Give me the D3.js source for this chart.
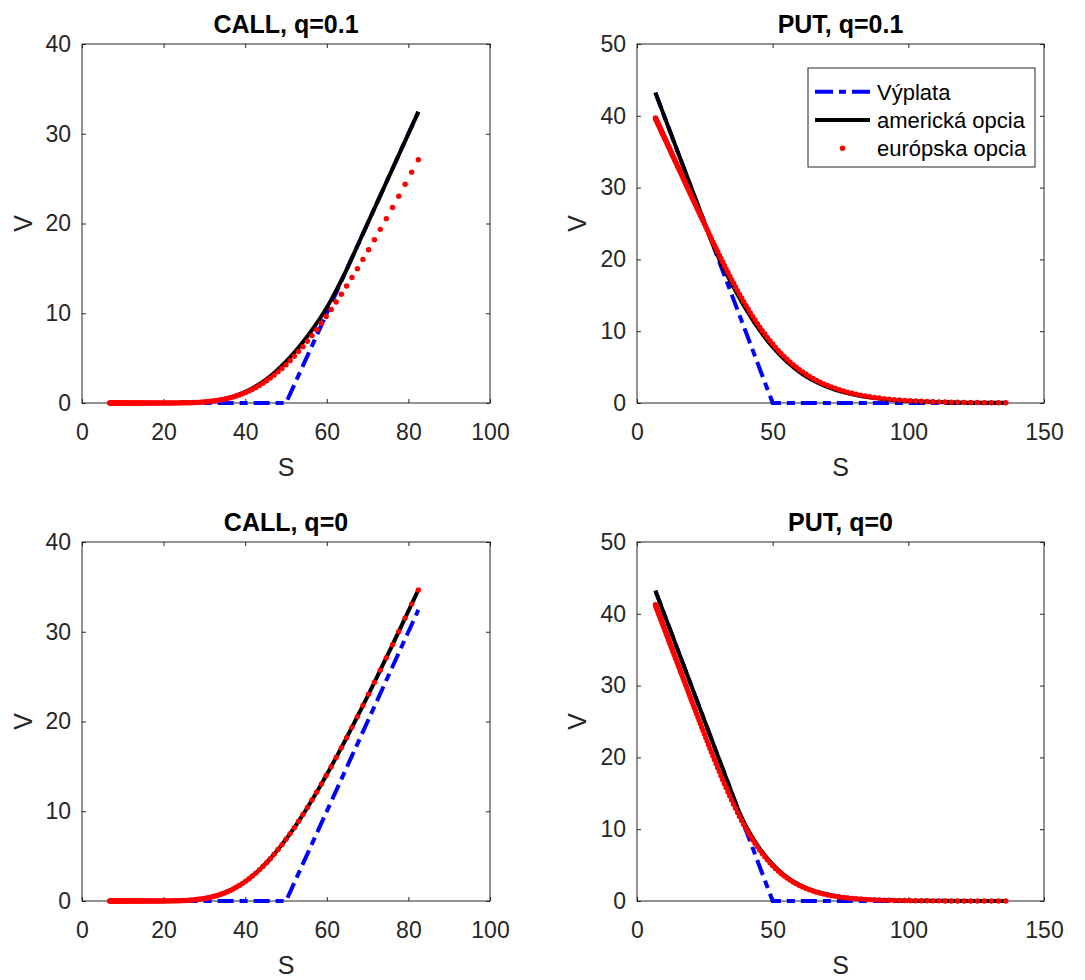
<!DOCTYPE html>
<html><head><meta charset="utf-8">
<script src="https://cdn.jsdelivr.net/npm/d3@7"></script>
<style>
body{margin:0;background:#fff}
text{font-family:"Liberation Sans",Arial,Helvetica,sans-serif;fill:#262626}
</style></head>
<body><svg id="c" width="1085" height="980"></svg>
<script>
// ---- data ----
const sGrid = [
6.77,6.90,7.04,7.19,7.33, 7.48,7.63,7.78,7.94,8.10, 8.26,8.43,8.60,8.78,8.95,
9.13,9.32,9.51,9.70,9.89, 10.09,10.30,10.51,10.72,10.94, 11.16,11.38,11.61,11.85,12.09,
12.33,12.58,12.83,13.09,13.36, 13.63,13.90,14.18,14.47,14.76, 15.06,15.36,15.67,15.99,16.31,
16.64,16.98,17.32,17.67,18.03, 18.39,18.77,19.14,19.53,19.93, 20.33,20.74,21.16,21.59,22.02,
22.47,22.92,23.38,23.86,24.34, 24.83,25.33,25.84,26.36,26.90, 27.44,27.99,28.56,29.14,29.73,
30.33,30.94,31.56,32.20,32.85, 33.52,34.19,34.88,35.59,36.31, 37.04,37.79,38.55,39.33,40.13,
40.94,41.76,42.61,43.47,44.35, 45.24,46.16,47.09,48.04,49.01, 50.00,51.01,52.04,53.09,54.16,
55.26,56.37,57.51,58.68,59.86, 61.07,62.30,63.56,64.85,66.16, 67.49,68.86,70.25,71.67,73.11,
74.59,76.10,77.64,79.20,80.80, 82.44,84.10,85.80,87.53,89.30, 91.11,92.95,94.83,96.74,98.70,
100.69,102.72,104.80,106.91,109.07, 111.28,113.53,115.82,118.16,120.55, 122.98,125.46,128.00,130.59,133.22,
135.91];

// European call, q=0.1 (126 points on sGrid)
const callQ1Eur = [
0,0,0,0,0, 0,0,0,0,0, 0,0,0,0,0, 0,0,0,0,0, 0,0,0,0,0, 0,0,0,0,0,
0,0,0,0,0, 0,0,0,0,0, 0,0,0,0,0, 0,0,0,0,0, 0,0,0,0,0, 0,0,0,0,0,
0.01,0.01,0.01,0.01,0.02, 0.02,0.02,0.03,0.03,0.04, 0.05,0.06,0.07,0.09,0.11,
0.13,0.16,0.19,0.22,0.26, 0.31,0.36,0.42,0.50,0.58, 0.67,0.78,0.89,1.03,1.18,
1.34,1.53,1.73,1.96,2.21, 2.48,2.78,3.11,3.47,3.85, 4.27,4.72,5.21,5.73,6.28,
6.88,7.51,8.17,8.89,9.63, 10.42,11.25,12.12,13.03,13.98, 14.97,16.00,17.08,18.19,19.35,
20.54,21.78,23.05,24.37,25.72, 27.11];
// American call, q=0.1
const callQ1AmerS = [6.77,20.33,27.44,30.33,33.52,37.04,40.94,42.61,45.24,47.09,50.00,52.04,55.26,57.51,58.68,59.86,61.07,62.30,63.56,64.85,66.16,67.49,74.59,82.44];
const callQ1AmerV = [0.00,0.00,0.05,0.13,0.33,0.72,1.44,1.86,2.67,3.35,4.60,5.61,7.43,8.86,9.67,10.53,11.49,12.53,13.65,14.87,16.16,17.49,24.59,32.44];

// European call, q=0 (126 points)
const callQ0Eur = [
0,0,0,0,0, 0,0,0,0,0, 0,0,0,0,0, 0,0,0,0,0, 0,0,0,0,0, 0,0,0,0,0,
0,0,0,0,0, 0,0,0,0,0, 0,0,0,0,0, 0,0,0,0,0, 0,0,0,0,0,
0.01,0.01,0.01,0.01,0.02, 0.02,0.02,0.03,0.03,0.04, 0.05,0.06,0.07,0.09,0.11,
0.13,0.16,0.19,0.22,0.26, 0.31,0.36,0.42,0.50,0.58, 0.67,0.78,0.89,1.03,1.18,
1.34,1.53,1.73,1.96,2.21, 2.48,2.78,3.11,3.47,3.85, 4.27,4.72,5.21,5.73,6.28,
6.88,7.51,8.17,8.89,9.63, 10.42,11.25,12.12,13.03,13.98, 14.97,16.00,17.08,18.19,19.35,
20.54,21.78,23.05,24.37,25.72, 27.11,28.55,30.02,31.53,33.08, 34.66];
// American call without dividend coincides with the European one
const callQ0AmerS = sGrid.slice(0, 126);
const callQ0AmerV = callQ0Eur;

// European put, q=0.1 (151 points)
const putQ1Eur = [
39.70,39.59,39.48,39.36,39.24, 39.12,39.00,38.87,38.74,38.61, 38.47,38.34,38.20,38.05,37.91,
37.76,37.61,37.46,37.30,37.14, 36.98,36.81,36.64,36.46,36.29, 36.11,35.92,35.73,35.54,35.35,
35.15,34.94,34.73,34.52,34.30, 34.08,33.86,33.63,33.39,33.15, 32.91,32.66,32.41,32.15,31.88,
31.61,31.34,31.06,30.77,30.48, 30.18,29.88,29.57,29.25,28.93, 28.60,28.27,27.93,27.58,27.22,
26.86,26.49,26.12,25.73,25.34, 24.95,24.54,24.13,23.71,23.29, 22.85,22.41,21.97,21.52,21.06,
20.59,20.12,19.64,19.15,18.66, 18.17,17.67,17.17,16.67,16.16, 15.65,15.13,14.62,14.11,13.60,
13.09,12.58,12.07,11.56,11.06, 10.57,10.08,9.60,9.13,8.66, 8.21,7.76,7.33,6.91,6.50,
6.10,5.71,5.34,4.98,4.64, 4.31,4.00,3.70,3.42,3.15, 2.89,2.65,2.43,2.22,2.02,
1.84,1.67,1.51,1.35,1.22, 1.09,0.98,0.87,0.77,0.69, 0.61,0.54,0.47,0.42,0.37,
0.32,0.28,0.25,0.21,0.18, 0.16,0.14,0.12,0.10,0.08, 0.07,0.06,0.05,0.04,0.04,
0.03];
const putQ1AmerS = [6.77,20.33,26.36,26.90,27.44,27.99,28.56,29.14,29.73,30.33,31.56,33.52,37.04,40.94,45.24,50.00,55.26,61.07,67.49,74.59,82.44,91.11,100.69,111.28,122.98,135.91];
const putQ1AmerV = [43.23,29.67,23.64,23.10,22.56,22.02,21.50,21.00,20.51,20.03,19.07,17.61,15.12,12.59,10.11,7.79,5.73,4.00,2.64,1.65,0.96,0.53,0.27,0.13,0.05,0.02];

// European put, q=0 (151 points)
const putQ0Eur = [
41.27,41.14,41.00,40.85,40.71, 40.56,40.41,40.26,40.10,39.94, 39.78,39.61,39.44,39.26,39.09,
38.91,38.72,38.53,38.34,38.15, 37.95,37.74,37.53,37.32,37.10, 36.88,36.66,36.43,36.19,35.95,
35.71,35.46,35.21,34.95,34.68, 34.41,34.14,33.86,33.57,33.28, 32.98,32.68,32.37,32.05,31.73,
31.40,31.06,30.72,30.37,30.01, 29.65,29.27,28.90,28.51,28.11, 27.72,27.31,26.89,26.46,26.04,
25.59,25.14,24.69,24.21,23.74, 23.26,22.77,22.27,21.77,21.25, 20.73,20.21,19.67,19.12,18.57,
18.02,17.46,16.90,16.34,15.77, 15.19,14.63,14.05,13.48,12.91, 12.34,11.78,11.22,10.67,10.12,
9.58,9.06,8.54,8.04,7.54, 7.07,6.60,6.16,5.73,5.31, 4.92,4.53,4.17,3.83,3.51,
3.20,2.91,2.64,2.39,2.16, 1.94,1.74,1.56,1.39,1.23, 1.09,0.96,0.85,0.74,0.65,
0.56,0.49,0.42,0.36,0.31, 0.27,0.23,0.19,0.16,0.14, 0.12,0.10,0.08,0.07,0.06,
0.05,0.04,0.03,0.03,0.02, 0.02,0.01,0.01,0.01,0.01, 0.01,0,0,0,0,
0];
const putQ0AmerS = [6.77,20.33,30.33,36.31,37.04,37.79,38.55,39.33,40.13,40.94,42.61,44.35,45.24,47.09,50.00,52.04,55.26,58.68,61.07,64.85,67.49,71.67,74.59,79.20,82.44,91.11,100.69,111.28,122.98,135.91];
const putQ0AmerV = [43.23,29.67,19.67,13.69,12.97,12.30,11.66,11.05,10.46,9.89,8.81,7.79,7.30,6.37,5.10,4.33,3.34,2.50,2.03,1.45,1.15,0.79,0.60,0.40,0.29,0.13,0.05,0.02,0.01,0.00];

// payoffs
const callPayS = [6.77, 50, 82.44];
const callPayV = [0, 0, 32.44];
const putPayS = [6.77, 50, 135.91];
const putPayV = [43.23, 0, 0];

const callXTicks = [0,20,40,60,80,100];
const callYTicks = [0,10,20,30,40];
const putXTicks = [0,50,100,150];
const putYTicks = [0,10,20,30,40,50];
const legendLabels = ["Výplata", "americká opcia", "európska opcia"];

// ---- layout ----
const panels = [
 {title:"CALL, q=0.1", L:82, R:490, T:44, B:403, tB:33, sB:476, vB:32, xMax:100, yMax:40, xt:callXTicks, yt:callYTicks,
  S:sGrid.slice(0,126), eur:callQ1Eur, aS:callQ1AmerS, aV:callQ1AmerV, pS:callPayS, pV:callPayV, legend:false},
 {title:"PUT, q=0.1", L:637, R:1044, T:44, B:403, tB:33, sB:476, vB:586, xMax:150, yMax:50, xt:putXTicks, yt:putYTicks,
  S:sGrid, eur:putQ1Eur, aS:putQ1AmerS, aV:putQ1AmerV, pS:putPayS, pV:putPayV, legend:true},
 {title:"CALL, q=0", L:82, R:490, T:542, B:901, tB:531, sB:974, vB:32, xMax:100, yMax:40, xt:callXTicks, yt:callYTicks,
  S:sGrid.slice(0,126), eur:callQ0Eur, aS:callQ0AmerS, aV:callQ0AmerV, pS:callPayS, pV:callPayV, legend:false},
 {title:"PUT, q=0", L:637, R:1044, T:542, B:901, tB:531, sB:974, vB:586, xMax:150, yMax:50, xt:putXTicks, yt:putYTicks,
  S:sGrid, eur:putQ0Eur, aS:putQ0AmerS, aV:putQ0AmerV, pS:putPayS, pV:putPayV, legend:false}
];

const svg = d3.select("#c");
const AX = "#262626";
const DASH = "16,6,8,6";

panels.forEach(p => {
  const x = d3.scaleLinear().domain([0, p.xMax]).range([p.L, p.R]);
  const y = d3.scaleLinear().domain([0, p.yMax]).range([p.B, p.T]);
  const g = svg.append("g");

  const fmt = d3.format("d");
  const ax = (axis, tx, ty, labels) => {
    const a = g.append("g").attr("transform", `translate(${tx},${ty})`)
      .call(axis.tickSizeOuter(0));
    a.select(".domain").remove();
    a.selectAll("line").attr("stroke", AX).attr("stroke-width", 1);
    a.selectAll("text").attr("fill", AX).style("font-size", "23px")
      .style("font-family", '"Liberation Sans",Arial,sans-serif');
    if (!labels) a.selectAll("text").remove();
    return a;
  };
  ax(d3.axisBottom(x).tickValues(p.xt).tickFormat(fmt).tickSizeInner(-4).tickPadding(21), 0, p.B, true);
  ax(d3.axisTop(x).tickValues(p.xt).tickSizeInner(-4), 0, p.T, false);
  ax(d3.axisLeft(y).tickValues(p.yt).tickFormat(fmt).tickSizeInner(-4).tickPadding(11), p.L, 0, true);
  ax(d3.axisRight(y).tickValues(p.yt).tickSizeInner(-4), p.R, 0, false);

  g.append("rect").attr("x", p.L).attr("y", p.T).attr("width", p.R - p.L).attr("height", p.B - p.T)
    .attr("fill", "none").attr("stroke", AX).attr("stroke-width", 1);

  // payoff
  const pay = p.pS.map((s, i) => [s, p.pV[i]]);
  g.append("path").attr("d", d3.line().x(d => x(d[0])).y(d => y(d[1]))(pay))
    .attr("fill", "none").attr("stroke", "#0000ff").attr("stroke-width", 4)
    .attr("stroke-dasharray", DASH);

  // american
  const am = p.aS.map((s, i) => [s, p.aV[i]]);
  g.append("path").attr("d", d3.line().x(d => x(d[0])).y(d => y(d[1])).curve(d3.curveMonotoneX)(am))
    .attr("fill", "none").attr("stroke", "#000").attr("stroke-width", 4);

  // european dots
  g.selectAll("circle.eu").data(p.eur.map((v, i) => [p.S[i], v])).enter().append("circle")
    .attr("cx", d => x(d[0])).attr("cy", d => y(d[1])).attr("r", 2.7).attr("fill", "#ff0000");

  // titles and labels
  g.append("text").attr("x", (p.L + p.R) / 2).attr("y", p.tB).attr("text-anchor", "middle")
    .style("font-size", "25px").style("font-weight", "bold").style("fill", "#000").text(p.title);
  g.append("text").attr("x", (p.L + p.R) / 2).attr("y", p.sB).attr("text-anchor", "middle")
    .style("font-size", "25px").text("S");
  g.append("text").attr("transform", `translate(${p.vB},${(p.T + p.B) / 2}) rotate(-90)`)
    .attr("text-anchor", "middle").style("font-size", "25px").text("V");

  if (p.legend) {
    const lg = g.append("g");
    lg.append("rect").attr("x", 808).attr("y", 68).attr("width", 227).attr("height", 99)
      .attr("fill", "#fff").attr("stroke", AX).attr("stroke-width", 1);
    const rows = [91.7, 120, 148.3];
    lg.append("line").attr("x1", 815).attr("x2", 870).attr("y1", rows[0]).attr("y2", rows[0])
      .attr("stroke", "#0000ff").attr("stroke-width", 4).attr("stroke-dasharray", "18,6,7,6");
    lg.append("line").attr("x1", 815).attr("x2", 870).attr("y1", rows[1]).attr("y2", rows[1])
      .attr("stroke", "#000").attr("stroke-width", 4);
    lg.append("circle").attr("cx", 842.5).attr("cy", rows[2]).attr("r", 2.7).attr("fill", "#ff0000");
    legendLabels.forEach((t, i) => {
      lg.append("text").attr("x", 877).attr("y", rows[i] + 7.8).style("font-size", "22px")
        .style("fill", "#000").text(t);
    });
  }
});
</script></body></html>
